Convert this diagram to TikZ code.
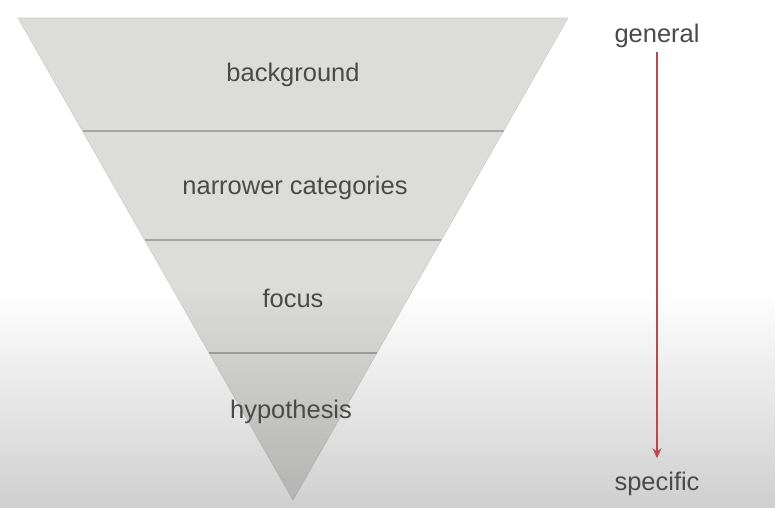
\documentclass[tikz,border=0pt]{standalone}
\usepackage{fontspec}
\setmainfont{Liberation Sans}
\usepackage{xcolor}
\usetikzlibrary{arrows.meta,fadings}
\definecolor{bandgray}{HTML}{DCDDDB}
\definecolor{rulegray}{HTML}{A6A7A5}
\definecolor{textgray}{HTML}{4A4A4A}
\definecolor{arrowred}{HTML}{B84A4D}
\tikzfading[name=dimdown, top color=transparent!100, bottom color=transparent!0]

\begin{document}
\begin{tikzpicture}[x=0.02cm,y=-0.02cm,
  band/.style={fill=bandgray,draw=gray!40,line width=0.3pt},
  divider/.style={draw=rulegray,line width=0.055cm},
  label/.style={text=textgray,font=\fontsize{14.5}{17}\selectfont,inner sep=0pt},
  scalearrow/.style={-{Stealth[length=2mm,width=1.8mm]},draw=arrowred,line width=0.28mm}]
  \useasboundingbox (0,0) rectangle (776,508);
  \fill[white] (0,0) rectangle (776,508);

  \path[band] (18,18) -- (568,18) -- (293,500) -- cycle;
  \draw[divider] (82.5,131) -- (503.5,131);
  \draw[divider] (144.7,240) -- (441.3,240);
  \draw[divider] (209.1,353) -- (376.9,353);

  \fill[black,opacity=0.19,path fading=dimdown] (0,290) rectangle (776,508);

  \node[label] (bg)     at (293,75)  {background};
  \node[label] (narrow) at (295,188) {narrower categories};
  \node[label] (focus)  at (293,298) {focus};
  \node[label] (hyp)    at (291,412) {hypothesis};

  \node[label,anchor=base] (general)  at (657,42)  {general};
  \node[label,anchor=base] (specific) at (657,490) {specific};

  \draw[scalearrow,shorten <=0.09cm,shorten >=0.26cm] (general) -- (specific);
\end{tikzpicture}
\end{document}
